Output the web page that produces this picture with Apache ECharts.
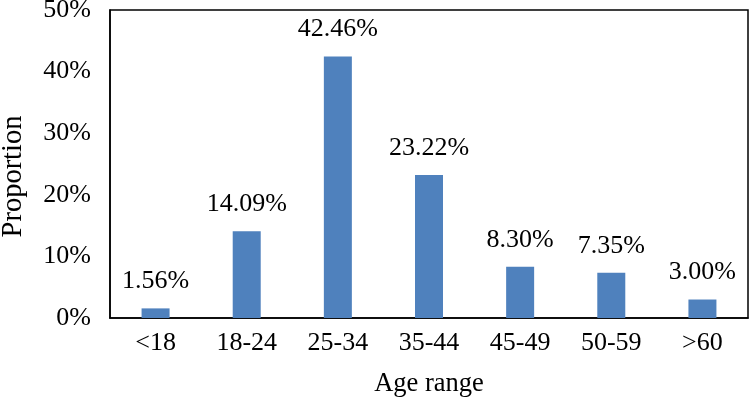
<!DOCTYPE html>
<html>
<head>
<meta charset="utf-8">
<script src="https://cdn.jsdelivr.net/npm/echarts@6/dist/echarts.min.js"></script>
<style>html,body{margin:0;padding:0;background:#fff}#c{width:750px;height:403px}</style>
</head>
<body>
<div id="c"></div>
<script>
const categories = ['<18', '18-24', '25-34', '35-44', '45-49', '50-59', '>60'];
const proportions = [1.56, 14.09, 42.46, 23.22, 8.30, 7.35, 3.00];
const yTicks = [0, 10, 20, 30, 40, 50];

const font = 'Liberation Serif, Times New Roman, serif';
const chart = echarts.init(document.getElementById('c'), null, {renderer: 'canvas'});
chart.setOption({
  animation: false,
  backgroundColor: '#fff',
  grid: {left: 110, right: 2, top: 10, bottom: 85, containLabel: false, outerBoundsMode: 'none',
    show: true, borderColor: '#000', borderWidth: 1.5, backgroundColor: 'transparent'},
  xAxis: {
    type: 'category',
    data: categories,
    name: 'Age range',
    nameLocation: 'middle',
    nameGap: 53,
    nameTextStyle: {fontFamily: font, fontSize: 26.5, color: '#000'},
    axisLine: {lineStyle: {color: '#000', width: 1.5}},
    axisTick: {show: false},
    axisLabel: {fontFamily: font, fontSize: 26, color: '#000', margin: 12}
  },
  yAxis: {
    type: 'value',
    min: 0, max: 50, interval: 10,
    name: 'Proportion',
    nameLocation: 'middle',
    nameGap: 82,
    nameTextStyle: {fontFamily: font, fontSize: 28.5, color: '#000', padding: [0, 25, 0, 0]},
    axisLine: {show: true, lineStyle: {color: '#000', width: 1.5}},
    axisTick: {show: false},
    splitLine: {show: false},
    axisLabel: {fontFamily: font, fontSize: 26, color: '#000', margin: 19,
      formatter: v => yTicks.includes(v) ? v + '%' : ''}
  },
  series: [{
    type: 'bar',
    data: proportions,
    barWidth: 28,
    itemStyle: {color: '#4F81BD'},
    label: {show: true, position: 'top', distance: 14, fontFamily: font, fontSize: 26, color: '#000',
      formatter: p => p.value.toFixed(2) + '%'}
  }]
});
</script>
</body>
</html>
